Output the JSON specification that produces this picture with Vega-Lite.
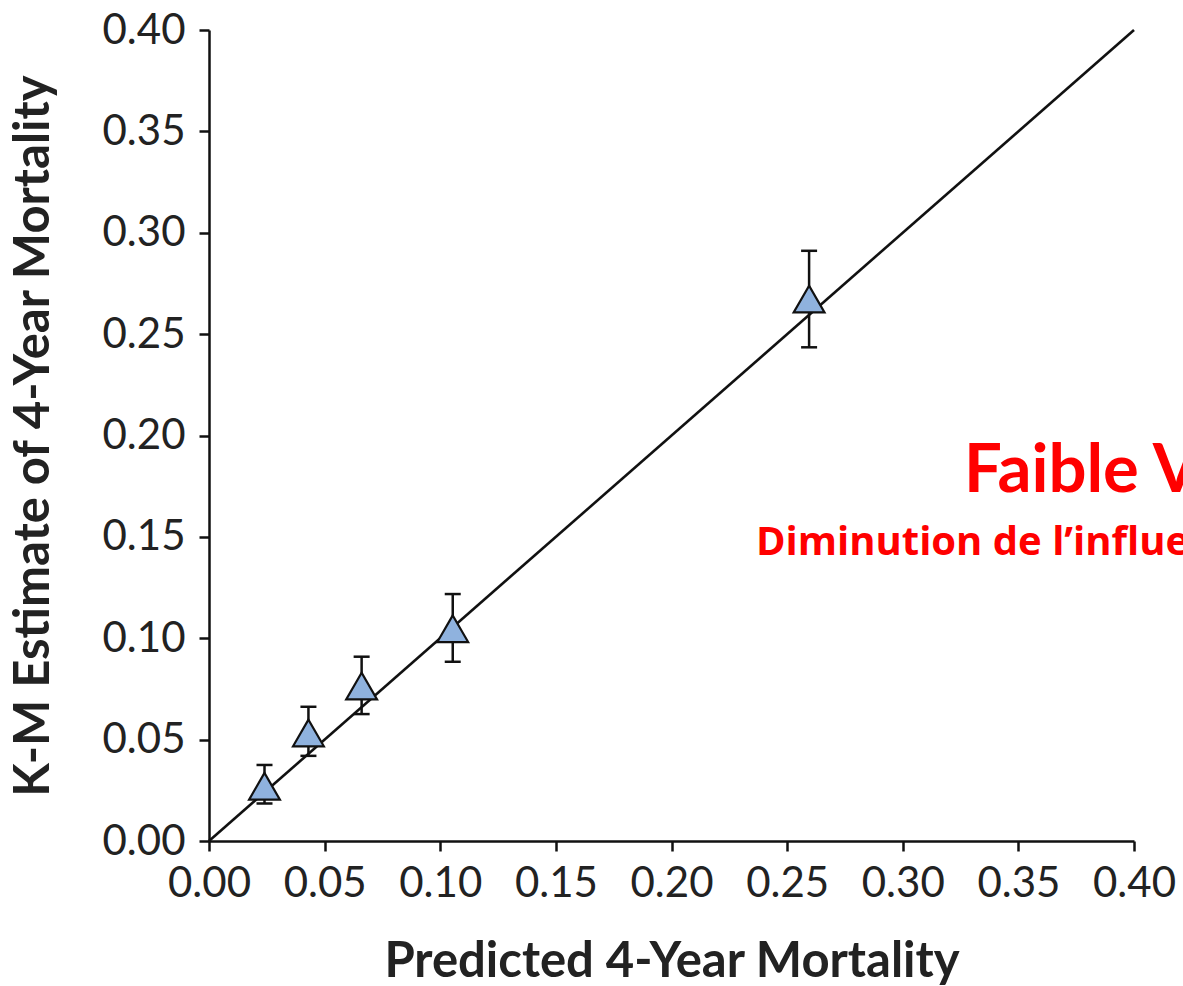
{
  "$schema": "https://vega.github.io/schema/vega-lite/v6.json",
  "autosize": {"type": "none"},
  "width": 925,
  "height": 811,
  "padding": {"left": 209, "top": 30, "right": 49, "bottom": 145},
  "background": "white",
  "config": {
    "view": {"stroke": null},
    "axis": {
      "grid": false,
      "domainColor": "#111111",
      "domainWidth": 2.5,
      "tickColor": "#111111",
      "tickWidth": 2.5,
      "tickSize": 10,
      "labelFont": "Lato",
      "labelFontSize": 42,
      "labelColor": "#222222",
      "labelFlush": false,
      "labelOverlap": false,
      "labelBound": false,
      "titleFont": "Lato",
      "titleFontSize": 49,
      "titleFontWeight": "bold",
      "titleColor": "#222222"
    }
  },
  "datasets": {
    "diag": [{"px": 0, "py": 0}, {"px": 0.4, "py": 0.4}],
    "points": [
      {"pred": 0.024, "km": 0.027, "lo": 0.0185, "hi": 0.0375},
      {"pred": 0.043, "km": 0.0533, "lo": 0.042, "hi": 0.0662},
      {"pred": 0.066, "km": 0.0764, "lo": 0.0626, "hi": 0.0909},
      {"pred": 0.1054, "km": 0.1047, "lo": 0.0884, "hi": 0.1218},
      {"pred": 0.2595, "km": 0.2673, "lo": 0.2435, "hi": 0.2911}
    ]
  },
  "layer": [
    {
      "data": {"name": "diag"},
      "mark": {"type": "line", "color": "#111111", "strokeWidth": 2.6},
      "encoding": {
        "x": {
          "field": "px", "type": "quantitative",
          "scale": {"domain": [0, 0.4], "nice": false},
          "axis": {"values": [0, 0.05, 0.1, 0.15, 0.2, 0.25, 0.3, 0.35, 0.4], "format": ".2f", "labelPadding": 12, "titlePadding": 33},
          "title": "Predicted 4-Year Mortality"
        },
        "y": {
          "field": "py", "type": "quantitative",
          "scale": {"domain": [0, 0.4], "nice": false},
          "axis": {"values": [0, 0.05, 0.1, 0.15, 0.2, 0.25, 0.3, 0.35, 0.4], "format": ".2f", "labelPadding": 14, "titlePadding": 44},
          "title": "K-M Estimate of 4-Year Mortality"
        }
      }
    },
    {
      "data": {"name": "points"},
      "mark": {"type": "rule", "color": "#111111", "strokeWidth": 2.5},
      "encoding": {
        "x": {"field": "pred", "type": "quantitative", "title": "Predicted 4-Year Mortality"},
        "y": {"field": "lo", "type": "quantitative", "title": "K-M Estimate of 4-Year Mortality"},
        "y2": {"field": "hi"}
      }
    },
    {
      "data": {"name": "points"},
      "mark": {"type": "tick", "orient": "horizontal", "size": 16, "thickness": 2.5, "color": "#111111", "opacity": 1},
      "encoding": {
        "x": {"field": "pred", "type": "quantitative", "title": "Predicted 4-Year Mortality"},
        "y": {"field": "lo", "type": "quantitative", "title": "K-M Estimate of 4-Year Mortality"}
      }
    },
    {
      "data": {"name": "points"},
      "mark": {"type": "tick", "orient": "horizontal", "size": 16, "thickness": 2.5, "color": "#111111", "opacity": 1},
      "encoding": {
        "x": {"field": "pred", "type": "quantitative", "title": "Predicted 4-Year Mortality"},
        "y": {"field": "hi", "type": "quantitative", "title": "K-M Estimate of 4-Year Mortality"}
      }
    },
    {
      "data": {"name": "points"},
      "mark": {"type": "point", "shape": "triangle-up", "size": 950, "filled": true, "fill": "#8fb2de", "stroke": "#111111", "strokeWidth": 2.2, "opacity": 1},
      "encoding": {
        "x": {"field": "pred", "type": "quantitative", "title": "Predicted 4-Year Mortality"},
        "y": {"field": "km", "type": "quantitative", "title": "K-M Estimate of 4-Year Mortality"}
      }
    },
    {
      "data": {"values": [{"label": "Faible V", "nx": 0.3265, "ny": 0.1721}]},
      "mark": {"type": "text", "align": "left", "baseline": "alphabetic", "font": "Lato", "fontWeight": "bold", "fontSize": 67, "color": "#ff0000"},
      "encoding": {
        "x": {"field": "nx", "type": "quantitative", "title": "Predicted 4-Year Mortality"},
        "y": {"field": "ny", "type": "quantitative", "title": "K-M Estimate of 4-Year Mortality"},
        "text": {"field": "label"}
      }
    },
    {
      "data": {"values": [{"label": "Diminution de l’influe", "nx": 0.2365, "ny": 0.1411}]},
      "mark": {"type": "text", "align": "left", "baseline": "alphabetic", "font": "Open Sans", "fontWeight": "bold", "fontSize": 40, "color": "#ff0000"},
      "encoding": {
        "x": {"field": "nx", "type": "quantitative", "title": "Predicted 4-Year Mortality"},
        "y": {"field": "ny", "type": "quantitative", "title": "K-M Estimate of 4-Year Mortality"},
        "text": {"field": "label"}
      }
    }
  ]
}
